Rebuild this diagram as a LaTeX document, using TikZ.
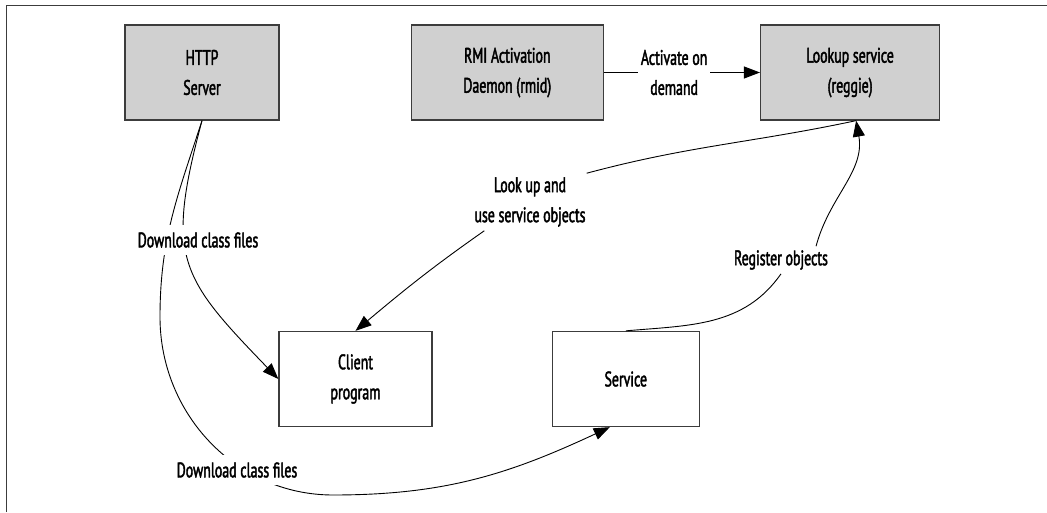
\documentclass[tikz,border=0pt]{standalone}
\usepackage{fontspec}
\setmainfont{PT Sans}[FakeStretch=0.66, FakeBold=2]
\usepackage{xcolor}
\usetikzlibrary{arrows.meta, positioning}
\definecolor{boxgray}{RGB}{208,208,208}
\definecolor{edgegray}{RGB}{60,60,60}

\begin{document}
\begin{tikzpicture}[x=1pt, y=1pt, font=\fontsize{21}{30}\selectfont,
    box/.style={draw=edgegray, line width=1.3pt, minimum height=95pt, align=center},
    server/.style={box, fill=boxgray},
    lbl/.style={align=center, inner sep=4pt},
    gaplbl/.style={fill=white, inner xsep=2pt, inner ysep=7pt},
    flow/.style={-{Triangle[length=16pt, width=12pt]}, line width=0.9pt}]
    \useasboundingbox (0,0) rectangle (1047,512);
    \draw[edgegray, line width=1.6pt] (6.5,0) -- (6.5,506.5) -- (1047,506.5);

    \node[server, minimum width=154pt] (http) at (202,439.5) {HTTP\\Server};
    \node[server, minimum width=192pt] (rmi) [right=131pt of http] {RMI Activation\\Daemon (rmid)};
    \node[server, minimum width=179pt] (look) [right=156pt of rmi] {Lookup service\\(reggie)};
    \node[box, minimum width=153pt] (client) at (355.5,133) {Client\\program};
    \node[box, minimum width=147pt] (service) [right=119pt of client] {Service};

    \node[lbl] (lkup) at (530,310) {Look up and\\use service objects};
    \node[lbl] (reg) at (781,252) {Register objects};
    \coordinate (lk) at ([xshift=6pt]look.south);
    \coordinate (bendB) at (160,195);
    \coordinate (lowB) at (333,17);
    \coordinate (svcin) at ([xshift=-16pt]service.south);

    \draw[flow] (rmi.east) -- node[pos=0.45, fill=white, inner xsep=3pt, align=center] (act) {Activate on\\demand} (look.west);
    \draw[flow] (lk) to[out=192, in=15] ([xshift=-3pt]lkup.north east)
        ([xshift=14pt]lkup.south west) to[out=215, in=40] (client.north);
    \draw[flow] (service.north) to[out=5, in=235] (reg.south)
        ([xshift=-16pt]reg.north east) to[out=75, in=280] (lk);
    \draw[flow] (http.south) to[out=255, in=134, looseness=1.35] (client.west);
    \draw[flow] (http.south) to[out=252, in=90] (bendB) to[out=270, in=180] (lowB)
        to[out=0, in=205] (svcin);

    \node[gaplbl] (dlA) at (198,272) {Download class files};
    \node[gaplbl] (dlB) at (237,42) {Download class files};
\end{tikzpicture}
\end{document}
